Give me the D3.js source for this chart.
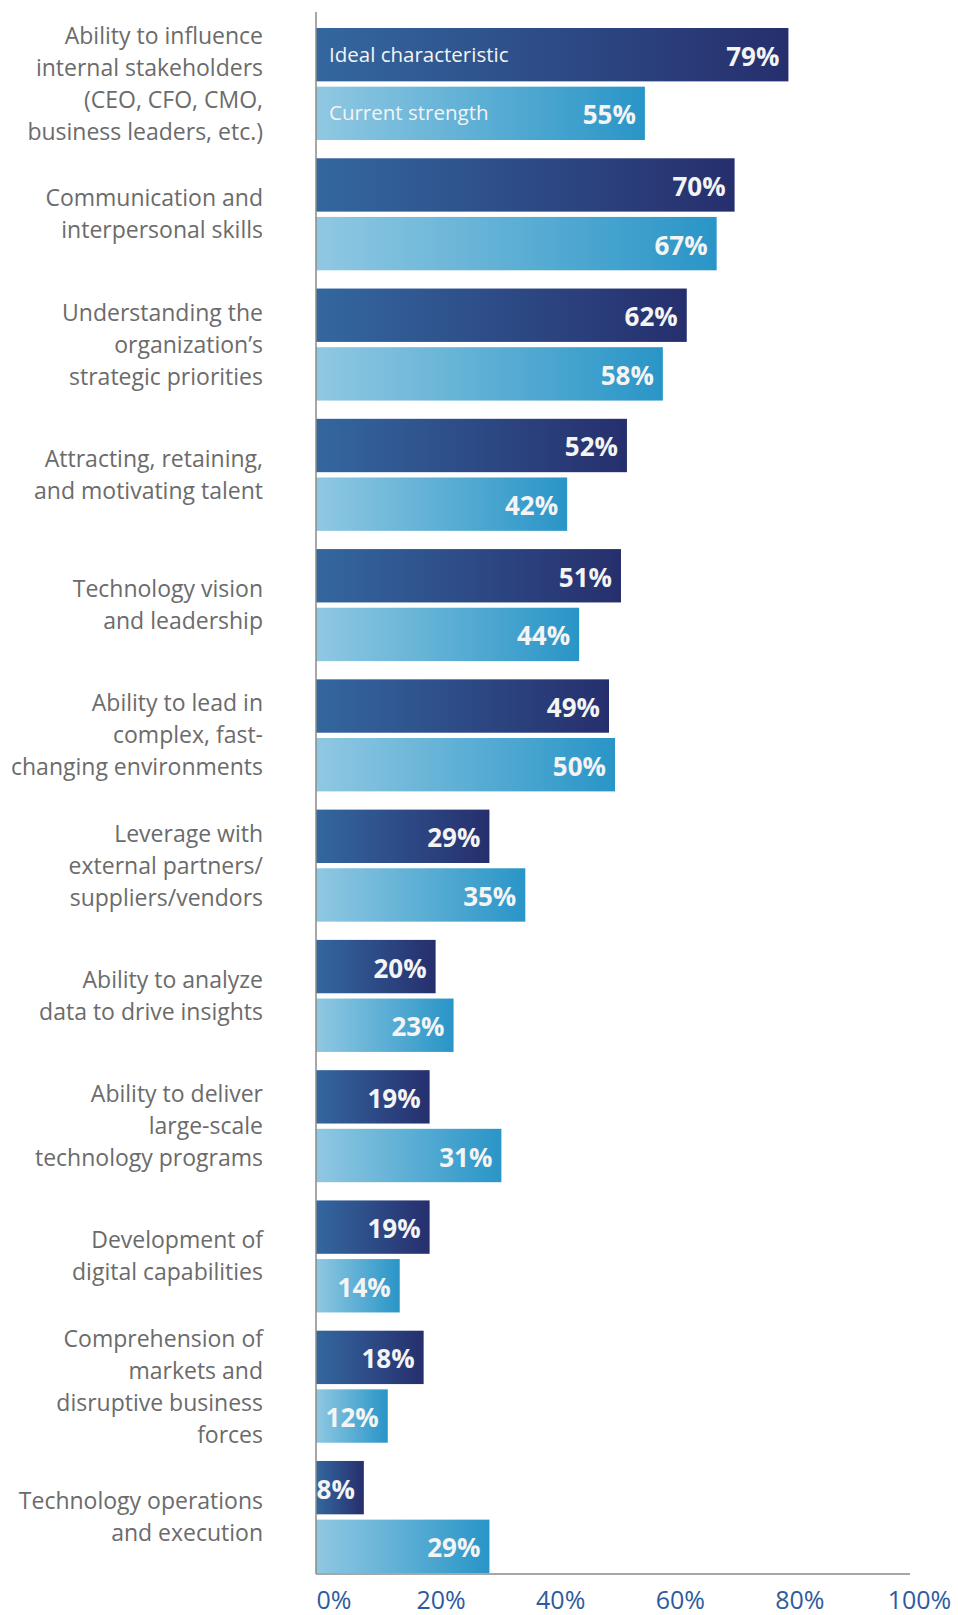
<!DOCTYPE html>
<html>
<head>
<meta charset="utf-8">
<script src="https://cdn.jsdelivr.net/npm/d3@7"></script>
<style>
  body { margin: 0; background: #fff; }
  svg text { font-family: "Open Sans", sans-serif; }
</style>
</head>
<body>
<svg id="chart"></svg>
<script>
// Data
const categories = [
  ["Ability to influence", "internal stakeholders", "(CEO, CFO, CMO,", "business leaders, etc.)"],
  ["Communication and", "interpersonal skills"],
  ["Understanding the", "organization\u2019s", "strategic priorities"],
  ["Attracting, retaining,", "and motivating talent"],
  ["Technology vision", "and leadership"],
  ["Ability to lead in", "complex, fast-", "changing environments"],
  ["Leverage with", "external partners/", "suppliers/vendors"],
  ["Ability to analyze", "data to drive insights"],
  ["Ability to deliver", "large-scale", "technology programs"],
  ["Development of", "digital capabilities"],
  ["Comprehension of", "markets and", "disruptive business", "forces"],
  ["Technology operations", "and execution"]
];
const idealValues   = [79, 70, 62, 52, 51, 49, 29, 20, 19, 19, 18, 8];
const currentValues = [55, 67, 58, 42, 44, 50, 35, 23, 31, 14, 12, 29];
const seriesNames = ["Ideal characteristic", "Current strength"];
const tickValues = [0, 20, 40, 60, 80, 100];

const width = 958, height = 1615;
const plotLeft = 316, plotRight = 914, plotTop = 28, plotBottom = 1574;

const svg = d3.select("#chart")
  .attr("width", width)
  .attr("height", height);

// gradients
const defs = svg.append("defs");
const gradIdeal = defs.append("linearGradient").attr("id", "gIdeal");
gradIdeal.append("stop").attr("offset", "0%").attr("stop-color", "#34679f");
gradIdeal.append("stop").attr("offset", "100%").attr("stop-color", "#262f6d");
const gradCurrent = defs.append("linearGradient").attr("id", "gCurrent");
gradCurrent.append("stop").attr("offset", "0%").attr("stop-color", "#90c8e2");
gradCurrent.append("stop").attr("offset", "100%").attr("stop-color", "#2995c7");

const rows = categories.map((c, i) => ({
  idx: i, lines: c, ideal: idealValues[i], current: currentValues[i]
}));

const x = d3.scaleLinear().domain([0, 100]).range([plotLeft, plotRight]);

const y0 = d3.scaleBand()
  .domain(rows.map(d => d.idx))
  .range([plotTop, plotBottom - 1])
  .paddingInner(0.14)
  .paddingOuter(0);

const y1 = d3.scaleBand()
  .domain(["ideal", "current"])
  .range([0, y0.bandwidth()])
  .paddingInner(0.09);

// bars
const groups = svg.append("g")
  .selectAll("g.group")
  .data(rows)
  .join("g")
  .attr("class", "group")
  .attr("transform", d => `translate(0,${y0(d.idx)})`);

const bars = groups.selectAll("g.bar")
  .data(d => [
    {key: "ideal", value: d.ideal, first: d.idx === 0},
    {key: "current", value: d.current, first: d.idx === 0}
  ])
  .join("g")
  .attr("class", "bar");

bars.append("rect")
  .attr("x", x(0))
  .attr("y", d => y1(d.key))
  .attr("width", d => x(d.value) - x(0))
  .attr("height", y1.bandwidth())
  .attr("fill", d => d.key === "ideal" ? "url(#gIdeal)" : "url(#gCurrent)");

bars.append("text")
  .attr("x", d => x(d.value) - 9)
  .attr("y", d => y1(d.key) + y1.bandwidth() / 2 + 11)
  .attr("text-anchor", "end")
  .attr("fill", "#f4f4f4")
  .style("font-size", "26px")
  .style("font-weight", "bold")
  .text(d => d.value + "%");

// series names inside first group's bars
bars.filter(d => d.first)
  .append("text")
  .attr("x", x(0) + 13)
  .attr("y", d => y1(d.key) + y1.bandwidth() / 2 + 7)
  .attr("fill", "#f4f4f4")
  .style("font-size", "20.5px")
  .text(d => d.key === "ideal" ? seriesNames[0] : seriesNames[1]);

// category labels
const lineH = 32;
groups.append("text")
  .attr("text-anchor", "end")
  .attr("fill", "#6b6b6b")
  .style("font-size", "23px")
  .each(function(d) {
    const t = d3.select(this);
    const n = d.lines.length;
    const mid = y0.bandwidth() / 2;
    d.lines.forEach((ln, k) => {
      t.append("tspan")
        .attr("x", 263)
        .attr("y", mid + (k - (n - 1) / 2) * lineH + 8)
        .text(ln);
    });
  });

// axes
svg.append("line")
  .attr("x1", plotLeft).attr("x2", plotLeft)
  .attr("y1", 12).attr("y2", plotBottom)
  .attr("stroke", "#8a8a8a").attr("stroke-width", 1.5);

const xAxis = d3.axisBottom(x)
  .tickValues(tickValues)
  .tickSize(0)
  .tickPadding(17)
  .tickFormat(d => d + "%");

const ax = svg.append("g")
  .attr("transform", `translate(0,${plotBottom})`)
  .call(xAxis);
ax.select(".domain").remove();
ax.selectAll("text")
  .attr("fill", "#2d5c9e")
  .attr("dx", 5)
  .style("font-size", "25px")
  .style("font-family", "'Open Sans', sans-serif");
ax.selectAll(".tick").filter(d => d === 0).select("text")
  .attr("text-anchor", "start")
  .attr("dx", 0);

svg.append("line")
  .attr("x1", plotLeft).attr("x2", 910)
  .attr("y1", plotBottom).attr("y2", plotBottom)
  .attr("stroke", "#8a8a8a").attr("stroke-width", 1.5);
</script>
</body>
</html>
